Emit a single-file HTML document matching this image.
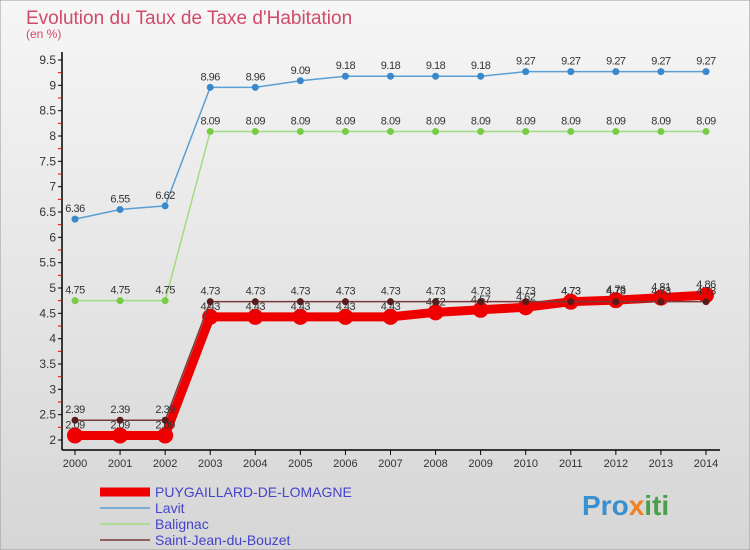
<!DOCTYPE html>
<html><head><meta charset="utf-8"><style>
body{margin:0}
svg{display:block;font-family:"Liberation Sans",sans-serif}
</style></head><body>
<svg width="750" height="550">
<defs><linearGradient id="bg" x1="0" y1="0" x2="0" y2="1"><stop offset="0" stop-color="#f6f6f6"/><stop offset="1" stop-color="#d6d6d6"/></linearGradient></defs>
<rect width="750" height="550" fill="url(#bg)" stroke="#999"/>
<text x="26" y="24" font-size="19" fill="#d04a6a">Evolution du Taux de Taxe d'Habitation</text>
<text x="26" y="38" font-size="12" fill="#d04a6a">(en %)</text>
<g id="axes"></g><g id="series"></g><g id="legend"></g>
<text x="582" y="515" font-size="28" font-weight="bold" fill="#3a8fd0">Pro<tspan fill="#f08020">x</tspan><tspan fill="#4aa04a">iti</tspan></text>
</svg>
<script>
const years=[2000,2001,2002,2003,2004,2005,2006,2007,2008,2009,2010,2011,2012,2013,2014];
const yTicks=[2,2.5,3,3.5,4,4.5,5,5.5,6,6.5,7,7.5,8,8.5,9,9.5];
const seriesNames=["PUYGAILLARD-DE-LOMAGNE","Lavit","Balignac","Saint-Jean-du-Bouzet"];
const puy=[2.09,2.09,2.09,4.43,4.43,4.43,4.43,4.43,4.52,4.57,4.62,4.73,4.76,4.81,4.86];
const lavit=[6.36,6.55,6.62,8.96,8.96,9.09,9.18,9.18,9.18,9.18,9.27,9.27,9.27,9.27,9.27];
const balignac=[4.75,4.75,4.75,8.09,8.09,8.09,8.09,8.09,8.09,8.09,8.09,8.09,8.09,8.09,8.09];
const sjb=[2.39,2.39,2.39,4.73,4.73,4.73,4.73,4.73,4.73,4.73,4.73,4.73,4.73,4.73,4.73];
const NS="http://www.w3.org/2000/svg";
const xS=i=>75+i*(706-75)/(years.length-1);
const yS=v=>440-(v-2)*(380/7.5);
function mk(t,a,p){const e=document.createElementNS(NS,t);for(const k in a)e.setAttribute(k,a[k]);p.appendChild(e);return e;}
const ax=document.getElementById('axes');
mk('line',{x1:62,y1:52,x2:62,y2:450,stroke:'#000','stroke-width':1.5},ax);
mk('line',{x1:62,y1:450,x2:720,y2:450,stroke:'#000','stroke-width':1.5},ax);
for(let v=2;v<=9.5;v+=0.25){mk('line',{x1:58,y1:yS(v),x2:62,y2:yS(v),stroke:(v*2)%1===0?'#000':'#e00'},ax);}
yTicks.forEach(v=>{const t=mk('text',{x:56,y:yS(v)+4,'font-size':12,'text-anchor':'end',fill:'#333'},ax);t.textContent=v;});
years.forEach((y,i)=>{mk('line',{x1:xS(i),y1:450,x2:xS(i),y2:455,stroke:'#000'},ax);const t=mk('text',{x:xS(i),y:467,'font-size':11,'text-anchor':'middle',fill:'#333'},ax);t.textContent=y;});
const sg=document.getElementById('series');
function draw(vals,line,pt,lw,r,name,lab){
 const g=mk('g',{},sg);
 mk('polyline',{points:vals.map((v,i)=>xS(i)+','+yS(v)).join(' '),fill:'none',stroke:line,'stroke-width':lw},g);
 vals.forEach((v,i)=>{const c=mk('circle',{cx:xS(i),cy:yS(v),r:r,fill:pt},g);
  if(lab){const t=mk('text',{x:xS(i),y:yS(v)-7,'font-size':11,'text-anchor':'middle',fill:'#333','letter-spacing':'-0.5'},g);t.textContent=v.toFixed(2);}});
}
draw(lavit,'#5a9fd4','#3a88cc',1.5,3.5,'series-lavit',true);
draw(balignac,'#a0dd80','#77cc44',1.5,3.5,'series-balignac',true);
draw(puy,'#ee0000','#ee0000',9,8,'series-puygaillard',false);
draw(sjb,'#7a3a3a','#5a1a1a',1.5,3.5,'series-saint-jean',true);
puy.forEach((v,i)=>{const t=mk('text',{x:xS(i),y:yS(v)-7,'font-size':11,'text-anchor':'middle',fill:'#333','letter-spacing':'-0.5'},sg);t.textContent=v.toFixed(2);});
const lg=document.getElementById('legend');
const lc=['#ee0000','#5a9fd4','#a0dd80','#7a3a3a'],lw=[9,1.5,1.5,1.5];
seriesNames.forEach((n,i)=>{const y=492+i*16;const g=mk('g',{},lg);
 mk('line',{x1:100,y1:y,x2:150,y2:y,stroke:lc[i],'stroke-width':lw[i]},g);
 const t=mk('text',{x:155,y:y+5,'font-size':14,fill:'#4444cc'},g);t.textContent=n;});
</script>
</body></html>
